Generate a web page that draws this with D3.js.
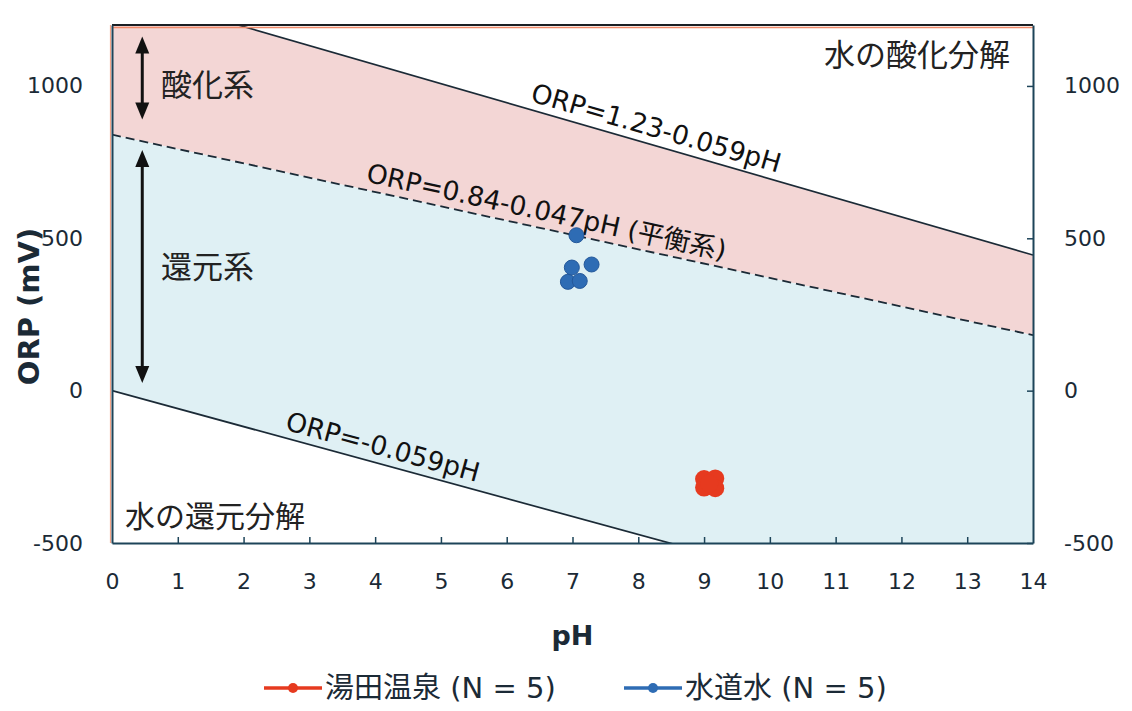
<!DOCTYPE html>
<html>
<head>
<meta charset="utf-8">
<script src="https://cdn.jsdelivr.net/npm/d3@7"></script>
<style>
  body { margin: 0; background: #fff; }
  svg { display: block; }
</style>
</head>
<body>
<svg id="chart" width="1132" height="711"></svg>
<script>
// ---- data ----
const phTicks = [0, 1, 2, 3, 4, 5, 6, 7, 8, 9, 10, 11, 12, 13, 14];
const orpTicks = [-500, 0, 500, 1000];
const phDomain = [0, 14];
const orpDomain = [-500, 1200];

// measured samples (pH, ORP mV)
const tapWaterPh  = [7.06, 6.99, 7.29, 6.93, 7.11];
const tapWaterOrp = [510, 404, 414, 357, 360];
const onsenPh     = [9.00, 9.17, 9.00, 9.17, 9.08];
const onsenOrp    = [-290, -288, -318, -320, -305];

// boundary lines, ORP (mV) at pH 0 and pH 14
const oxidLine  = [1320, 445];   // ORP=1.23-0.059pH
const equilLine = [840, 182];    // ORP=0.84-0.047pH (平衡系)
const reducLine = [0, -826];     // ORP=-0.059pH

const seriesNames = ["湯田温泉 (N = 5)", "水道水 (N = 5)"];
const seriesColors = ["#e63a1f", "#2e6cb4"];

// ---- layout ----
const svg = d3.select("#chart");
const x = d3.scaleLinear().domain(phDomain).range([112, 1033]);
const y = d3.scaleLinear().domain(orpDomain).range([543, 25]);
const latin = "'DejaVu Sans', 'Noto Sans CJK JP', sans-serif";
const cjk = "'Noto Sans CJK JP', sans-serif";
const ink = "#1b2a36";
const axisCol = "#1d4459";

svg.append("defs").append("clipPath").attr("id", "plotClip")
  .append("rect")
  .attr("x", x(0)).attr("y", y(1200))
  .attr("width", x(14) - x(0)).attr("height", y(-500) - y(1200));

const plot = svg.append("g").attr("clip-path", "url(#plotClip)");
const pt = (ph, v) => [x(ph), y(v)];

// oxidising band (pink) between upper line and equilibrium line
plot.append("path")
  .attr("d", d3.line()([pt(0, oxidLine[0]), pt(14, oxidLine[1]), pt(14, equilLine[1]), pt(0, equilLine[0])]) + "Z")
  .attr("fill", "#f3d6d5");

// reducing band (light blue) between equilibrium line and lower line
plot.append("path")
  .attr("d", d3.line()([pt(0, equilLine[0]), pt(14, equilLine[1]), pt(14, reducLine[1]), pt(0, reducLine[0])]) + "Z")
  .attr("fill", "#dff0f4");

// boundary lines
plot.append("path")
  .attr("d", d3.line()([pt(0, oxidLine[0]), pt(14, oxidLine[1])]))
  .attr("stroke", ink).attr("stroke-width", 1.7).attr("fill", "none");
plot.append("path")
  .attr("d", d3.line()([pt(0, equilLine[0]), pt(14, equilLine[1])]))
  .attr("stroke", ink).attr("stroke-width", 1.8).attr("fill", "none")
  .attr("stroke-dasharray", "9,5");
plot.append("path")
  .attr("d", d3.line()([pt(0, reducLine[0]), pt(14, reducLine[1])]))
  .attr("stroke", ink).attr("stroke-width", 1.7).attr("fill", "none");

// frame: orange outline with dark axis lines
svg.append("line").attr("x1", x(0)).attr("x2", x(14)).attr("y1", y(1200) + 2.5).attr("y2", y(1200) + 2.5)
  .attr("stroke", "#f08a6a").attr("stroke-width", 1.5);
svg.append("line").attr("x1", x(0) - 1.5).attr("x2", x(0) - 1.5).attr("y1", y(1200)).attr("y2", y(-500))
  .attr("stroke", "#f3a58a").attr("stroke-width", 1.2);
svg.append("line").attr("x1", x(0)).attr("x2", x(14)).attr("y1", y(1200)).attr("y2", y(1200))
  .attr("stroke", "#1a1f24").attr("stroke-width", 2);

// axes
const fmt = d => String(d);
const xAxis = svg.append("g").attr("transform", `translate(0,${y(-500)})`)
  .call(d3.axisBottom(x).tickValues(phTicks).tickFormat(fmt)
    .tickSizeInner(-6).tickSizeOuter(0).tickPadding(30));
const yAxisL = svg.append("g").attr("transform", `translate(${x(0)},0)`)
  .call(d3.axisLeft(y).tickValues(orpTicks).tickFormat(fmt)
    .tickSize(0).tickPadding(29));
const yAxisR = svg.append("g").attr("transform", `translate(${x(14)},0)`)
  .call(d3.axisRight(y).tickValues(orpTicks).tickFormat(fmt)
    .tickSizeInner(-6).tickSizeOuter(0).tickPadding(31));
[xAxis, yAxisL, yAxisR].forEach(g => {
  g.select(".domain").attr("stroke", axisCol).attr("stroke-width", 2);
  g.selectAll(".tick line").attr("stroke", axisCol).attr("stroke-width", 1.5);
  g.selectAll(".tick text").attr("fill", ink).style("font-family", latin).style("font-size", "22px");
});
xAxis.selectAll(".tick").filter(d => d === 0 || d === 14).select("line").remove();

// axis titles
svg.append("text").attr("x", x(7)).attr("y", 645).attr("text-anchor", "middle")
  .style("font-family", latin).style("font-size", "27px").style("font-weight", "bold")
  .attr("fill", ink).text("pH");
svg.append("text").attr("transform", `translate(39,${(y(1000) + y(-500)) / 2 - 8}) rotate(-90)`)
  .attr("text-anchor", "middle")
  .style("font-family", latin).style("font-size", "29px").style("font-weight", "bold")
  .attr("fill", ink).text("ORP (mV)");

// double-headed arrows marking the two regions
function doubleArrow(xp, v0, v1) {
  const g = svg.append("g");
  const ya = y(v0), yb = y(v1), h = 17, w = 7;
  g.append("line").attr("x1", xp).attr("x2", xp).attr("y1", ya + h - 2).attr("y2", yb - h + 2)
    .attr("stroke", "#111").attr("stroke-width", 3);
  g.append("path").attr("d", `M${xp},${ya} L${xp - w},${ya + h} L${xp + w},${ya + h} Z`).attr("fill", "#111");
  g.append("path").attr("d", `M${xp},${yb} L${xp - w},${yb - h} L${xp + w},${yb - h} Z`).attr("fill", "#111");
}
const arrowPh = 0.46;
doubleArrow(x(arrowPh), 1162, 890);
doubleArrow(x(arrowPh), 790, 25);

const regionLabel = (txt, px, py, anchor, size) => svg.append("text")
  .attr("x", px).attr("y", py).attr("text-anchor", anchor || "start")
  .attr("dominant-baseline", "central")
  .style("font-family", cjk).style("font-size", (size || 31) + "px").attr("fill", "#222")
  .text(txt);
regionLabel("酸化系", 161, y(1010));
regionLabel("還元系", 161, y(415));
regionLabel("水の酸化分解", 1010, y(1110), "end");
regionLabel("水の還元分解", 125, y(-405), "start", 30);

// formula labels along each boundary line
function lineLabel(vals, ph, txt) {
  const v = vals[0] + (vals[1] - vals[0]) * ph / 14;
  const ang = Math.atan2(y(vals[1]) - y(vals[0]), x(14) - x(0)) * 180 / Math.PI;
  svg.append("text")
    .attr("transform", `translate(${x(ph)},${y(v)}) rotate(${ang})`)
    .attr("text-anchor", "middle").attr("dy", -8)
    .style("font-family", latin).style("font-size", "26.5px").attr("fill", "#111")
    .text(txt);
}
lineLabel(oxidLine, 8.2, "ORP=1.23-0.059pH");
lineLabel(equilLine, 6.55, "ORP=0.84-0.047pH (平衡系)");
lineLabel(reducLine, 4.05, "ORP=-0.059pH");

// sample points
const onsen = onsenPh.map((p, i) => ({ ph: p, orp: onsenOrp[i] }));
const tap = tapWaterPh.map((p, i) => ({ ph: p, orp: tapWaterOrp[i] }));
svg.append("g").selectAll("circle").data(onsen).join("circle")
  .attr("cx", d => x(d.ph)).attr("cy", d => y(d.orp)).attr("r", 9)
  .attr("fill", seriesColors[0]);
svg.append("g").selectAll("circle").data(tap).join("circle")
  .attr("cx", d => x(d.ph)).attr("cy", d => y(d.orp)).attr("r", 7.5)
  .attr("fill", seriesColors[1]).attr("stroke", "#24589a").attr("stroke-width", 1);

// legend
const legendY = 688;
const legendItems = [
  { name: seriesNames[0], color: seriesColors[0], x0: 264 },
  { name: seriesNames[1], color: seriesColors[1], x0: 624 }
];
const lg = svg.append("g");
legendItems.forEach(it => {
  lg.append("line").attr("x1", it.x0).attr("x2", it.x0 + 58).attr("y1", legendY).attr("y2", legendY)
    .attr("stroke", it.color).attr("stroke-width", 3.5);
  lg.append("circle").attr("cx", it.x0 + 29).attr("cy", legendY).attr("r", 5).attr("fill", it.color);
  lg.append("text").attr("x", it.x0 + 61).attr("y", legendY).attr("dominant-baseline", "central")
    .style("font-family", latin).style("font-size", "29px").attr("fill", ink).text(it.name);
});
</script>
</body>
</html>
